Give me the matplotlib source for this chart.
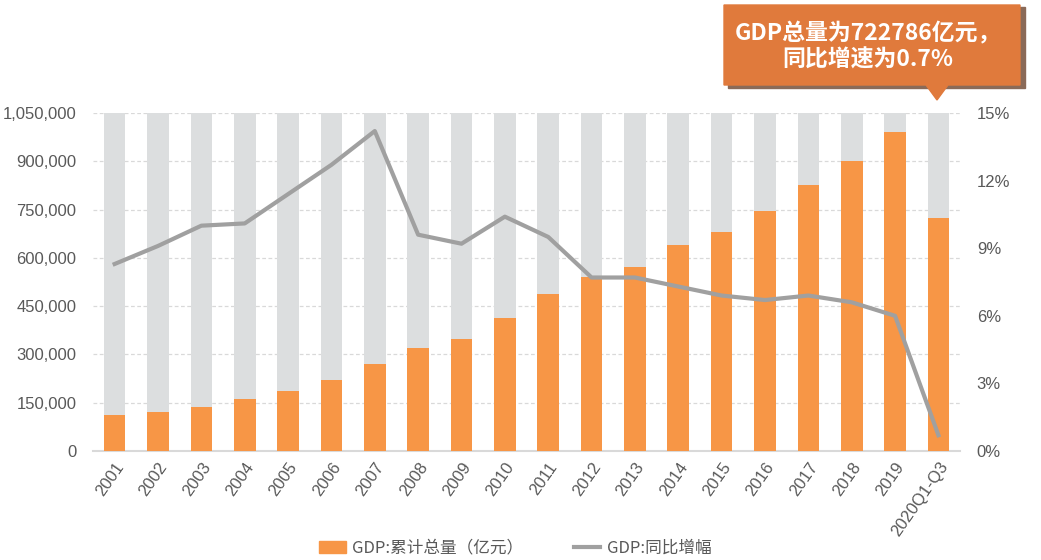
import matplotlib.pyplot as plt
from matplotlib.patches import Polygon, Rectangle
from matplotlib.lines import Line2D
from matplotlib.patches import Patch

plt.rcParams['font.family'] = ['Liberation Sans', 'Noto Sans CJK SC', 'DejaVu Sans']

# 数据
years = ["2001", "2002", "2003", "2004", "2005", "2006", "2007", "2008", "2009", "2010",
         "2011", "2012", "2013", "2014", "2015", "2016", "2017", "2018", "2019", "2020Q1-Q3"]
gdp_total = [110863, 121717, 137422, 161840, 187319, 219439, 270232, 319516, 349081, 413030,
             489301, 540367, 571000, 639000, 680000, 744127, 827122, 900309, 990865, 722786]
gdp_growth = [8.3, 9.1, 10.0, 10.1, 11.4, 12.7, 14.2, 9.6, 9.2, 10.4,
              9.5, 7.7, 7.7, 7.3, 6.9, 6.7, 6.9, 6.6, 6.0, 0.7]
left_ticks = [0, 150000, 300000, 450000, 600000, 750000, 900000, 1050000]
right_ticks = [0, 3, 6, 9, 12, 15]

ORANGE = "#f79646"
BG_GRAY = "#dcdedf"
LINE_GRAY = "#a0a0a0"
TXT = "#595959"

fig = plt.figure(figsize=(10.41, 5.6), dpi=100)
ax = fig.add_axes([0.0893, 0.1946, 0.833, 0.6036])
ax2 = ax.twinx()

x = list(range(len(years)))
ax.bar(x, [left_ticks[-1]] * len(x), width=0.5, color=BG_GRAY, zorder=2)
ax.bar(x, gdp_total, width=0.5, color=ORANGE, zorder=3)

ax.set_xlim(-0.5, len(x) - 0.5)
ax.set_ylim(0, left_ticks[-1])
ax.set_yticks(left_ticks)
ax.set_yticklabels([f"{v:,}" for v in left_ticks])
ax.set_xticks(x)
ax.set_xticklabels(years, rotation=55, ha="right", rotation_mode="anchor")
ax.grid(axis="y", color="#d9d9d9", linestyle=(0, (3, 2)), linewidth=0.9, zorder=0)
ax.set_axisbelow(True)

ax2.plot(x, gdp_growth, color=LINE_GRAY, linewidth=3, zorder=5)
ax2.set_ylim(0, 15)
ax2.set_yticks(right_ticks)
ax2.set_yticklabels([f"{v}%" for v in right_ticks])

for a in (ax, ax2):
    for s in a.spines.values():
        s.set_visible(False)
    a.tick_params(length=0, labelsize=12, colors=TXT)
ax.tick_params(axis="y", pad=12)
ax.tick_params(axis="x", pad=6)
ax2.tick_params(axis="y", pad=12)
ax.spines["bottom"].set_visible(True)
ax.spines["bottom"].set_color("#d9d9d9")
ax.spines["bottom"].set_linewidth(1.5)

# 标注框
W, H = 1041, 560
def fc(px, py):
    return (px / W, 1 - py / H)

shadow = Rectangle(fc(728, 88), 297 / W, 81 / H, transform=fig.transFigure,
                   color="#8a6a58", zorder=9)
box = Polygon([fc(724, 5), fc(1020, 5), fc(1020, 85), fc(948, 85), fc(937, 100),
               fc(926, 85), fc(724, 85)], closed=True, transform=fig.transFigure,
              color="#e07a3c", zorder=10)
fig.patches.extend([shadow, box])
fig.text(868 / W, 1 - 47 / H, "GDP总量为722786亿元，\n同比增速为0.7%", ha="center", va="center",
         color="white", fontsize=16.5, fontweight="bold", linespacing=1.2,
         family=["Noto Sans CJK SC", "DejaVu Sans"], zorder=11)

# 图例
handles = [Patch(color=ORANGE), Line2D([0], [0], color=LINE_GRAY, linewidth=3)]
fig.legend(handles, ["GDP:累计总量（亿元）", "GDP:同比增幅"], loc="center",
           bbox_to_anchor=(0.495, 1 - 548 / H), ncol=2, frameon=False,
           labelcolor=TXT, handlelength=1.6, columnspacing=3, handletextpad=0.4,
           prop={"family": ["Noto Sans CJK SC", "DejaVu Sans"], "size": 12})

fig.savefig("out.png", dpi=100, facecolor="white")
